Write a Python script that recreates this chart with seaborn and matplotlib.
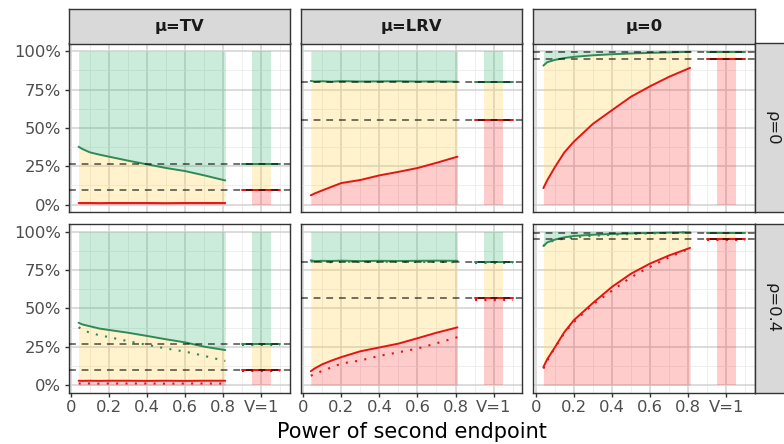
import numpy as np
import pandas as pd
import matplotlib
matplotlib.use("Agg")
import matplotlib.pyplot as plt
from matplotlib.patches import Rectangle
import seaborn as sns

# ---------------- data ----------------
x_power = [0.04, 0.06, 0.1, 0.15, 0.2, 0.3, 0.4, 0.5, 0.6, 0.7, 0.81]
mu_labels = ["μ=TV", "μ=LRV", "μ=0"]
rho_labels = ["ρ=0", "ρ=0.4"]
x_tick_values = [0, 0.2, 0.4, 0.6, 0.8, 1.0]
x_tick_labels = ["0", "0.2", "0.4", "0.6", "0.8", "V=1"]
y_tick_values = [0, 25, 50, 75, 100]
y_tick_labels = ["0%", "25%", "50%", "75%", "100%"]
x_label = "Power of second endpoint"

# rho = 0
green_tv_r0 = [37.7, 36.2, 34.0, 32.5, 31.2, 28.6, 26.2, 23.8, 21.8, 19.0, 15.7]
red_tv_r0 = [1.0, 1.0, 1.0, 0.9, 1.0, 1.0, 1.0, 0.9, 1.0, 1.0, 1.0]
green_lrv_r0 = [80.6, 80.2, 80.4, 80.1, 80.5, 80.2, 80.3, 80.4, 80.2, 80.3, 80.1]
red_lrv_r0 = [6.0, 7.2, 9.2, 11.6, 14.0, 16.0, 19.0, 21.3, 23.8, 27.2, 31.2]
green_zero_r0 = [90.6, 92.8, 94.3, 95.5, 96.3, 97.3, 98.0, 98.5, 98.9, 99.2, 99.6]
red_zero_r0 = [10.7, 15.8, 24.3, 34.0, 41.0, 52.6, 61.5, 70.3, 77.1, 83.3, 89.1]

# rho = 0.4
green_tv_r04 = [40.6, 39.5, 38.3, 36.8, 35.9, 34.1, 32.0, 29.8, 27.8, 25.0, 22.8]
red_tv_r04 = [2.8, 2.7, 2.8, 2.7, 2.8, 2.8, 2.7, 2.8, 2.7, 2.8, 2.8]
green_lrv_r04 = [81.3, 80.8, 81.0, 80.9, 81.1, 80.8, 81.0, 80.9, 81.0, 81.1, 81.0]
red_lrv_r04 = [9.0, 10.8, 13.5, 16.0, 18.2, 22.0, 24.5, 27.0, 30.5, 34.1, 37.6]
green_zero_r04 = [90.7, 93.0, 94.8, 96.3, 97.2, 98.0, 98.5, 98.9, 99.2, 99.4, 99.6]
red_zero_r04 = [11.7, 16.8, 24.5, 34.5, 42.3, 53.5, 64.0, 72.6, 79.2, 84.5, 89.4]

# values at V=1 (also the dashed reference levels)
v1_upper_r0 = [26.2, 79.7, 99.3]
v1_lower_r0 = [9.2, 55.2, 94.7]
v1_upper_r04 = [26.5, 80.0, 99.2]
v1_lower_r04 = [9.8, 56.6, 95.1]

greens = [[green_tv_r0, green_lrv_r0, green_zero_r0],
          [green_tv_r04, green_lrv_r04, green_zero_r04]]
reds = [[red_tv_r0, red_lrv_r0, red_zero_r0],
        [red_tv_r04, red_lrv_r04, red_zero_r04]]
uppers = [v1_upper_r0, v1_upper_r04]
lowers = [v1_lower_r0, v1_lower_r04]

# ---------------- style ----------------
sns.set_theme(style="white")
plt.rcParams["font.family"] = ["DejaVu Sans"]

W, H = 784, 444
fig = plt.figure(figsize=(W / 100, H / 100), dpi=100)

col_left = [68.5, 300.7, 533.3]
col_w = 221.5
row_top = [43.5, 224.0]
row_h = 168.7
strip_top = 9.5
strip_right_x = 755.0

GREEN_LINE = "#2e8b57"
RED_LINE = "#e41414"
GREEN_FILL = ("#2db36b", 0.24)
YELLOW_FILL = ("#ffd24a", 0.28)
RED_FILL = ("#ff1a1a", 0.22)
BORDER = "#333333"

bar_x = [0.95, 1.05]
seg_x = [0.9, 1.1]

for r in range(2):
    for c in range(3):
        ax = fig.add_axes([col_left[c] / W, 1 - (row_top[r] + row_h) / H,
                           col_w / W, row_h / H])
        ax.set_xlim(-0.013, 1.15)
        ax.set_ylim(-5, 105)
        ax.set_xticks(x_tick_values)
        ax.set_xticks([0.1, 0.3, 0.5, 0.7, 0.9, 1.1], minor=True)
        ax.set_yticks(y_tick_values)
        ax.set_yticks([12.5, 37.5, 62.5, 87.5], minor=True)
        ax.grid(which="major", color="#d2d2d2", linewidth=1.1)
        ax.grid(which="minor", color="#ebebeb", linewidth=0.6)
        ax.set_axisbelow(True)
        for s in ax.spines.values():
            s.set_color(BORDER)
            s.set_linewidth(1.0)

        g = greens[r][c]
        rd = reds[r][c]
        up = uppers[r][c]
        lo = lowers[r][c]

        # stacked areas
        ax.fill_between(x_power, 0, rd, color=RED_FILL[0], alpha=RED_FILL[1], linewidth=0, zorder=1)
        ax.fill_between(x_power, rd, g, color=YELLOW_FILL[0], alpha=YELLOW_FILL[1], linewidth=0, zorder=1)
        ax.fill_between(x_power, g, 100, color=GREEN_FILL[0], alpha=GREEN_FILL[1], linewidth=0, zorder=1)
        # V=1 bar
        ax.fill_between(bar_x, 0, lo, color=RED_FILL[0], alpha=RED_FILL[1], linewidth=0, zorder=1)
        ax.fill_between(bar_x, lo, up, color=YELLOW_FILL[0], alpha=YELLOW_FILL[1], linewidth=0, zorder=1)
        ax.fill_between(bar_x, up, 100, color=GREEN_FILL[0], alpha=GREEN_FILL[1], linewidth=0, zorder=1)

        # solid lines
        sns.lineplot(x=x_power, y=g, ax=ax, color=GREEN_LINE, linewidth=1.4,
                     estimator=None, sort=False, zorder=3)
        sns.lineplot(x=x_power, y=rd, ax=ax, color=RED_LINE, linewidth=1.4,
                     estimator=None, sort=False, zorder=3)
        sns.lineplot(x=seg_x, y=[up, up], ax=ax, color=GREEN_LINE, linewidth=1.4,
                     estimator=None, sort=False, zorder=3)
        sns.lineplot(x=seg_x, y=[lo, lo], ax=ax, color=RED_LINE, linewidth=1.4,
                     estimator=None, sort=False, zorder=3)

        # dotted reference (rho = 0) in second row
        if r == 1:
            g0 = greens[0][c]
            r0 = reds[0][c]
            dot = (0, (1, 3.5))
            sns.lineplot(x=x_power, y=g0, ax=ax, color=GREEN_LINE, linewidth=1.5,
                         linestyle=dot, estimator=None, sort=False, zorder=3)
            sns.lineplot(x=x_power, y=r0, ax=ax, color=RED_LINE, linewidth=1.5,
                         linestyle=dot, estimator=None, sort=False, zorder=3)
            sns.lineplot(x=seg_x, y=[uppers[0][c]] * 2, ax=ax, color=GREEN_LINE, linewidth=1.5,
                         linestyle=dot, estimator=None, sort=False, zorder=3)
            sns.lineplot(x=seg_x, y=[lowers[0][c]] * 2, ax=ax, color=RED_LINE, linewidth=1.5,
                         linestyle=dot, estimator=None, sort=False, zorder=3)

        # dashed horizontal levels
        for lvl in (up, lo):
            ax.axhline(lvl, color="black", alpha=0.55, linewidth=1.4,
                       dashes=(3.5, 3.0), zorder=4)

        ax.set_xlabel("")
        ax.set_ylabel("")

        # ticks
        ax.tick_params(axis="both", which="major", length=3, width=1.0,
                       color=BORDER, labelsize=11.8, labelcolor="#4d4d4d", pad=2.5)
        ax.tick_params(axis="both", which="minor", length=0)
        if c == 0:
            ax.set_yticklabels(y_tick_labels)
            ax.tick_params(axis="y", left=True)
        else:
            ax.tick_params(axis="y", left=False, labelleft=False)
        if r == 1:
            ax.set_xticklabels(x_tick_labels)
            ax.tick_params(axis="x", bottom=True)
        else:
            ax.tick_params(axis="x", bottom=False, labelbottom=False)

        # top strip
        if r == 0:
            sax = fig.add_axes([col_left[c] / W, 1 - row_top[0] / H,
                                col_w / W, (row_top[0] - strip_top) / H])
            sax.set_xlim(0, 1)
            sax.set_ylim(0, 1)
            sax.set_xticks([])
            sax.set_yticks([])
            sax.set_facecolor("#d9d9d9")
            for s in sax.spines.values():
                s.set_color(BORDER)
                s.set_linewidth(1.0)
            sax.text(0.5, 0.5, mu_labels[c], ha="center", va="center",
                     fontsize=11.8, fontweight="bold", color="#1a1a1a")

    # right strip
    rax = fig.add_axes([strip_right_x / W, 1 - (row_top[r] + row_h) / H,
                        36 / W, row_h / H])
    rax.set_xlim(0, 1)
    rax.set_ylim(0, 1)
    rax.set_xticks([])
    rax.set_yticks([])
    rax.set_facecolor("#d9d9d9")
    for s in rax.spines.values():
        s.set_color(BORDER)
        s.set_linewidth(1.0)
    rax.text(16.5 / 36, 0.5, rho_labels[r], ha="center", va="center",
             rotation=-90, fontsize=11.8, color="#1a1a1a")

fig.text((col_left[0] + strip_right_x) / 2 / W, 1 - 432 / H, x_label,
         ha="center", va="center", fontsize=15, color="black")

fig.savefig("out.png", dpi=100)
